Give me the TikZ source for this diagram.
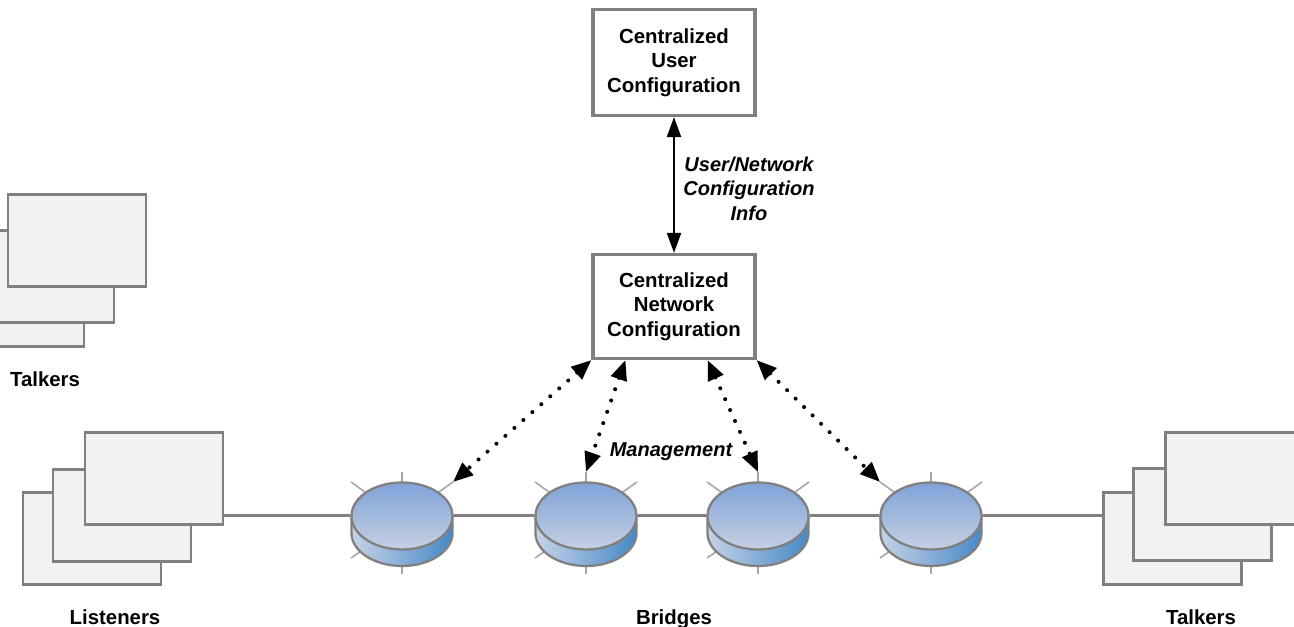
\documentclass[tikz,border=0pt]{standalone}
\usepackage{fontspec}
\setmainfont{Liberation Sans}
\usepackage{xcolor}
\usepackage{tikz}
\usetikzlibrary{arrows.meta,shapes.geometric}

\definecolor{edgegray}{HTML}{808080}
\definecolor{spokegray}{HTML}{A6A6A6}
\definecolor{tilegray}{HTML}{F2F2F2}
\definecolor{disctop}{HTML}{7FA3D8}
\definecolor{discbot}{HTML}{C6D0E3}
\definecolor{sidedark}{HTML}{4689C6}
\definecolor{sidemid}{HTML}{A9BFE0}
\definecolor{sidelight}{HTML}{C6D2E8}

\tikzset{
    cfgbox/.style={draw=edgegray, line width=1.8pt, fill=white, minimum width=3.24cm, minimum height=2.12cm, align=center, inner sep=0pt, font=\fontsize{11.6}{13.9}\selectfont\bfseries},
    tile/.style={draw=edgegray, line width=1.7pt, fill=tilegray, minimum width=2.76cm, minimum height=1.84cm, inner sep=0pt},
    caption/.style={font=\fontsize{11.6}{13.9}\selectfont\bfseries, align=center, inner sep=0pt},
    note/.style={font=\fontsize{11.4}{13.9}\selectfont\bfseries\itshape, align=center, inner sep=0pt},
    disc/.style={ellipse, draw=edgegray, line width=1.3pt, top color=disctop, bottom color=discbot, minimum width=2.02cm, minimum height=1.34cm, inner sep=0pt},
    link/.style={draw=edgegray, line width=1.7pt},
    spoke/.style={draw=spokegray, line width=0.9pt},
    mgmt/.style={line width=2.3pt, dash pattern=on 0pt off 6.8pt, line cap=round, {Triangle[length=4mm,width=3.2mm]}-{Triangle[length=4mm,width=3.2mm]}},
    info/.style={line width=1.2pt, {Triangle[length=4mm,width=2.8mm]}-{Triangle[length=4mm,width=2.8mm]}}
}

\begin{document}
\begin{tikzpicture}
    \useasboundingbox (0,0) rectangle (25.88,12.54);
    \clip (0,0) rectangle (25.88,12.54);

    % configuration servers
    \node[cfgbox] (user) at (13.48,11.29) {Centralized\\User\\Configuration};
    \node[cfgbox, minimum height=2.08cm] (net) at (13.48,6.41) {Centralized\\Network\\Configuration};
    \draw[info] (user.south) -- (net.north);
    \node[note] (infolabel) at (14.98,8.77) {User/Network\\Configuration\\Info};

    % end stations
    \node[tile] (talkL3) at (0.30,6.52) {};
    \node[tile] (talkL2) at (0.90,7.00) {};
    \node[tile] (talkL1) at (1.54,7.72) {};
    \node[caption] (talkLlabel) at (0.90,4.96) {Talkers};

    \node[tile] (list3) at (1.84,1.76) {};
    \node[tile] (list2) at (2.44,2.22) {};
    \node[tile] (list1) at (3.08,2.97) {};
    \node[caption] (listlabel) at (2.30,0.20) {Listeners};

    \node[tile] (talkR3) at (23.44,1.76) {};
    \node[tile] (talkR2) at (24.04,2.24) {};
    \node[tile] (talkR1) at (24.68,2.97) {};
    \node[caption] (talkRlabel) at (24.02,0.20) {Talkers};

    % bridges
    \foreach \name/\x in {brA/8.04,brB/11.72,brC/15.16,brD/18.62} {
        \coordinate (\name-n) at (\x,3.10);
        \coordinate (\name-ne) at (\x+1.02,2.90);
        \coordinate (\name-nw) at (\x-1.02,2.90);
        \coordinate (\name-s) at (\x,1.06);
        \coordinate (\name-sw) at (\x-1.02,1.38);
        \draw[spoke] (\name-n) -- (\x,2.70);
        \draw[spoke] (\name-ne) -- (\x+0.60,2.60);
        \draw[spoke] (\name-nw) -- (\x-0.60,2.60);
        \draw[spoke] (\name-s) -- (\x,1.30);
        \draw[spoke] (\name-sw) -- (\x-0.70,1.60);
        \shade[left color=sidelight, middle color=sidemid, right color=sidedark, draw=edgegray, line width=1.3pt]
            (\x-1.01,2.22) -- (\x-1.01,1.88) arc (180:360:1.01 and 0.66) -- (\x+1.01,2.22) -- cycle;
        \node[disc] (\name) at (\x,2.22) {};
    }
    \node[caption] (brlabel) at (13.48,0.16) {Bridges};

    \draw[link] (list1.east |- brA.west) -- (brA.west);
    \draw[link] (brA.east) -- (brB.west);
    \draw[link] (brB.east) -- (brC.west);
    \draw[link] (brC.east) -- (brD.west);
    \draw[link] (brD.east) -- (talkR3.west |- brD.east);

    % management links
    \draw[mgmt] (net.south west) -- (brA-ne);
    \draw[mgmt] ([xshift=0.68cm]net.south west) -- (brB-n);
    \draw[mgmt] ([xshift=-0.98cm]net.south east) -- (brC-n);
    \draw[mgmt] (net.south east) -- (brD-nw);
    \node[note] (mgmtlabel) at (13.42,3.50) {Management};

\end{tikzpicture}
\end{document}
